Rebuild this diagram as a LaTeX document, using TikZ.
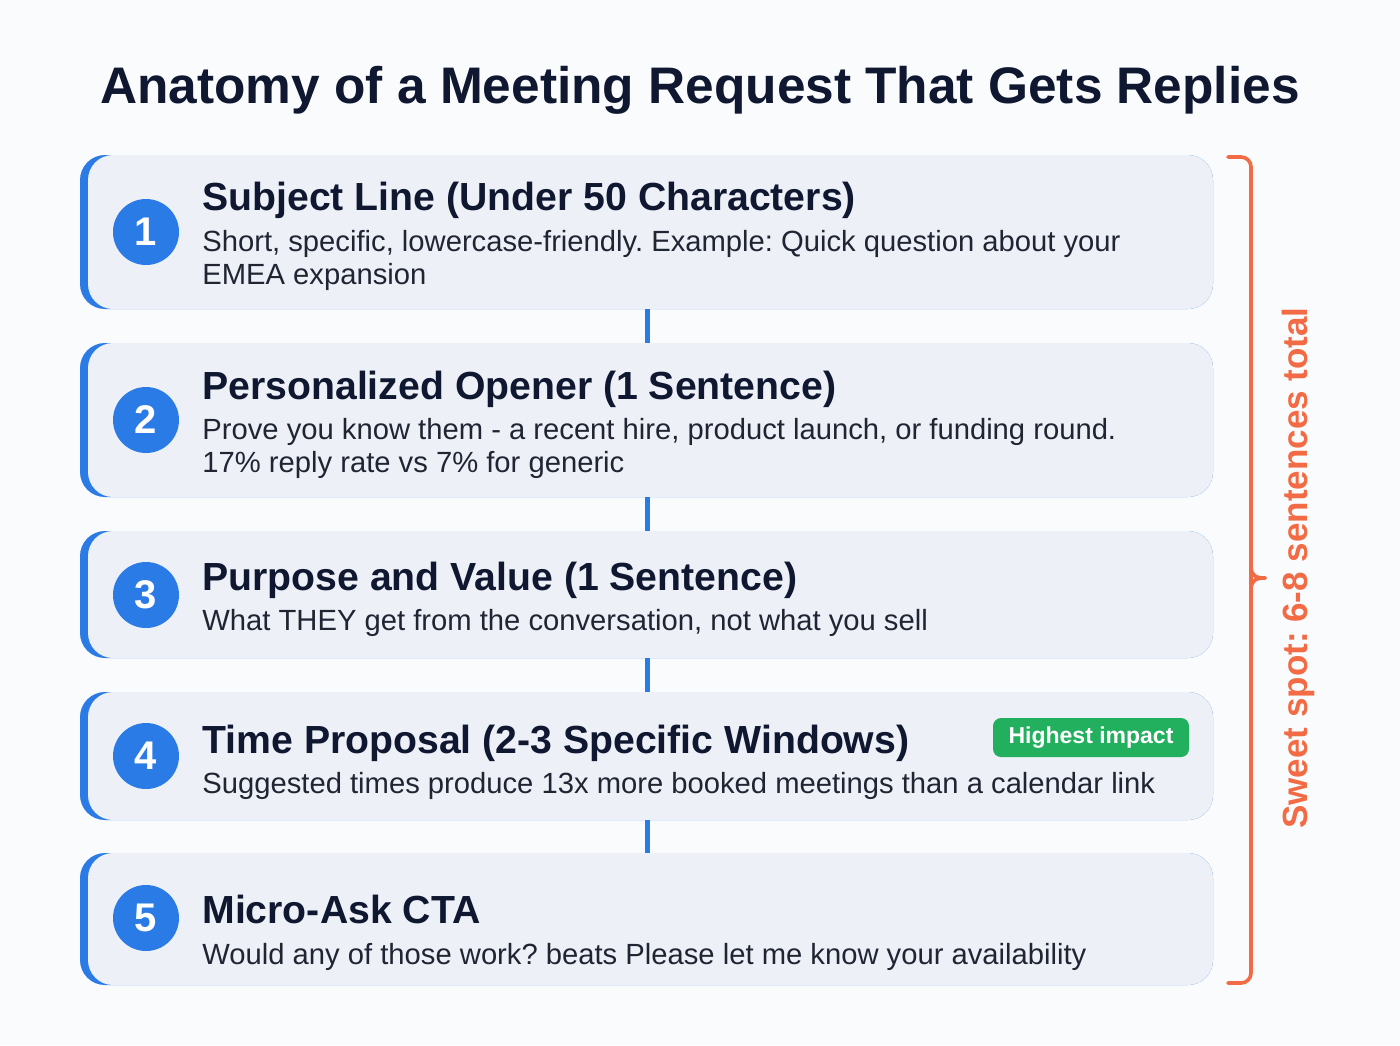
\documentclass[tikz,border=0pt]{standalone}
\usepackage{fontspec}
\setmainfont{Liberation Sans}
\frenchspacing
\definecolor{bg}{HTML}{FAFBFC}
\definecolor{card}{HTML}{EDF0F6}
\definecolor{accent}{HTML}{2B7BE6}
\definecolor{navy}{HTML}{0F1830}
\definecolor{bodytxt}{HTML}{1F2533}
\definecolor{brace}{HTML}{F26B45}
\definecolor{badge}{HTML}{23B05E}
\tikzset{
  x=0.5pt,y=-0.5pt,
  titletxt/.style={font=\fontsize{25.7}{30}\selectfont\bfseries, text=navy, inner sep=0pt},
  headtxt/.style={font=\fontsize{19.6}{23}\selectfont\bfseries, text=navy, inner sep=0pt, anchor=base west},
  bodyline/.style={font=\fontsize{14.6}{17}\selectfont, text=bodytxt, inner sep=0pt, anchor=base west},
  numcircle/.style={circle, fill=accent, minimum size=33pt, inner sep=0pt, text=white, font=\fontsize{20}{24}\selectfont\bfseries},
  linkline/.style={draw=accent, line width=2.5pt},
  bracepath/.style={draw=brace, line width=1.8pt, rounded corners=5pt, line cap=round},
}
\newcommand{\mkcard}[3]{%
  \fill[accent, rounded corners=12.5pt] (80,#1) rectangle (1213,#2);
  \fill[card, rounded corners=12.5pt] (88,#1) rectangle (1213,#2);
  \path (80,#1) coordinate (#3tl) (1213,#2) coordinate (#3br);
}
\begin{document}
\begin{tikzpicture}
\useasboundingbox (0,0) rectangle (1400,1045);
\fill[bg] (0,0) rectangle (1400,1045);

\node[titletxt, anchor=base] (title) at (700,103) {Anatomy of a Meeting Request That Gets Replies};

% cards
\mkcard{155}{309}{c1}
\mkcard{343}{497}{c2}
\mkcard{531}{658}{c3}
\mkcard{692}{820}{c4}
\mkcard{853}{985}{c5}

\coordinate (b1) at (647,309); \coordinate (t2) at (647,343);
\coordinate (b2) at (647,497); \coordinate (t3) at (647,531);
\coordinate (b3) at (647,658); \coordinate (t4) at (647,692);
\coordinate (b4) at (647,820); \coordinate (t5) at (647,853);
\draw[linkline] (b1) -- (t2);
\draw[linkline] (b2) -- (t3);
\draw[linkline] (b3) -- (t4);
\draw[linkline] (b4) -- (t5);

% numbers
\node[numcircle] (n1) at (146,232) {1};
\node[numcircle] (n2) at (146,420) {2};
\node[numcircle] (n3) at (146,595) {3};
\node[numcircle] (n4) at (146,756) {4};
\node[numcircle] (n5) at (146,918) {5};

% card 1
\node[headtxt] (h1) at (202,210) {Subject Line (Under 50 Characters)};
\node[bodyline] (d1a) at (202,251) {Short, specific, lowercase-friendly. Example: Quick question about your};
\node[bodyline] (d1b) at (202,284) {EMEA expansion};
% card 2
\node[headtxt] (h2) at (202,399) {Personalized Opener (1 Sentence)};
\node[bodyline] (d2a) at (202,439) {Prove you know them - a recent hire, product launch, or funding round.};
\node[bodyline] (d2b) at (202,472) {17\% reply rate vs 7\% for generic};
% card 3
\node[headtxt] (h3) at (202,590) {Purpose and Value (1 Sentence)};
\node[bodyline] (d3a) at (202,630) {What THEY get from the conversation, not what you sell};
% card 4
\node[headtxt] (h4) at (202,753) {Time Proposal (2-3 Specific Windows)};
\node[bodyline] (d4a) at (202,793) {Suggested times produce 13x more booked meetings than a calendar link};
\node[fill=badge, rounded corners=4pt, minimum width=98pt, minimum height=19.5pt, inner sep=0pt,
      text=white, font=\fontsize{11.5}{13}\selectfont\bfseries] (badge4) at (1091,737.5) {Highest impact};
% card 5
\node[headtxt] (h5) at (202,923) {Micro-Ask CTA};
\node[bodyline] (d5a) at (202,964) {Would any of those work? beats Please let me know your availability};

% brace
\coordinate (brtop) at (1228,157);
\coordinate (brbot) at (1228,983);
\coordinate (brtip) at (1265,578);
\draw[bracepath] (brtop) -- (1251,157) -- (1251,983) -- (brbot);
\draw[draw=brace, line width=1.8pt, line cap=round] (1251,566) .. controls (1251,576) and (1256,578) .. (brtip);
\draw[draw=brace, line width=1.8pt, line cap=round] (1251,590) .. controls (1251,580) and (1256,578) .. (brtip);
\node[rotate=90, text=brace, inner sep=0pt, font=\fontsize{17.5}{20}\selectfont\bfseries] (sweet) at (1298,568) {Sweet spot: 6-8 sentences total};
\end{tikzpicture}
\end{document}
